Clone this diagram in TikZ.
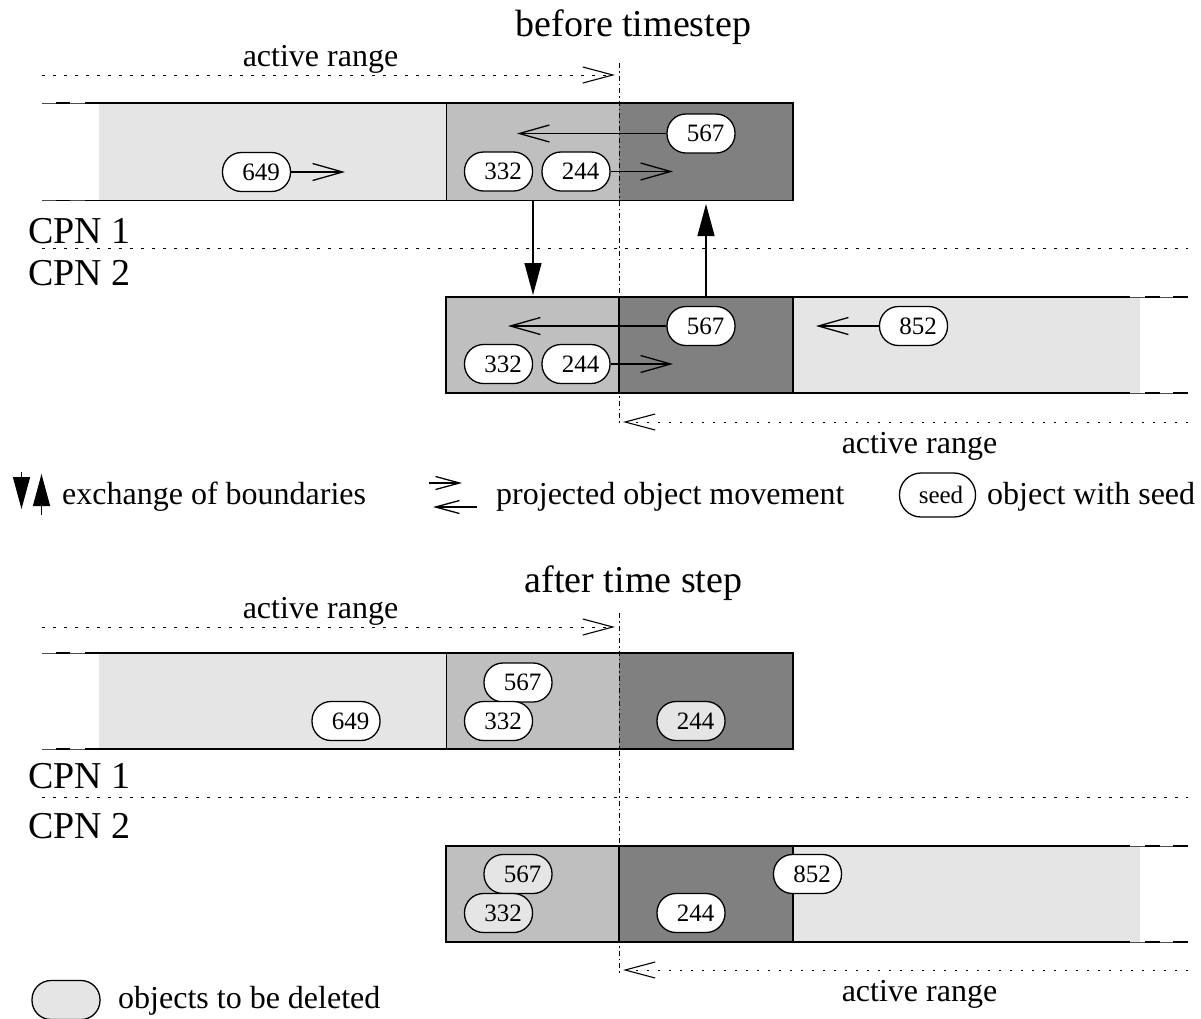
\documentclass[tikz,border=0pt]{standalone}
\usepackage{fontspec}
\setmainfont{Liberation Serif}
\usetikzlibrary{arrows.meta}
\definecolor{lg}{gray}{0.9}
\definecolor{mg}{gray}{0.75}
\definecolor{dg}{gray}{0.5}
\begin{document}
\begin{tikzpicture}[x=1pt,y=-1pt,
  obj/.style={draw, line width=1.3pt, rounded corners=19pt, minimum width=68pt, minimum height=39pt, inner sep=0pt, font=\fontsize{25}{25}\selectfont, fill=white},
  del/.style={obj, fill=lg},
  mv/.style={line width=1.3pt, -{Straight Barb[length=30pt,width=17pt]}},
  exch/.style={line width=1.3pt, -{Triangle[length=32pt,width=17pt]}},
  rng/.style={line width=0.9pt, dash pattern=on 2.5pt off 8.5pt, -{Straight Barb[length=30pt,width=16pt,line width=1.1pt]}},
  sepline/.style={line width=0.9pt, dash pattern=on 2.5pt off 8.5pt},
  vline/.style={line width=1pt, dash pattern=on 5pt off 3pt on 1.5pt off 3pt},
  boxline/.style={line width=1.8pt},
  thinline/.style={line width=0.8pt, black!70},
  lbl/.style={font=\fontsize{32}{36}\selectfont, anchor=base, inner sep=0pt},
  lblw/.style={lbl, anchor=base west},
  big/.style={font=\fontsize{38}{42}\selectfont, anchor=base, inner sep=0pt},
  bigw/.style={big, anchor=base west}]
\useasboundingbox (0,0) rectangle (1201,1018);

% ================= before timestep =================
\node[big] (title1) at (633.5,36) {before timestep};
% box CPN1
\fill[lg] (99,103) rectangle (446,200.5);
\fill[mg] (446,103) rectangle (619,200.5);
\fill[dg] (619,103) rectangle (793,200.5);
\draw[boxline] (85,103) -- (793,103) -- (793,200.5) -- (85,200.5);
\draw[thinline] (42,103) -- (85,103);
\draw[thinline] (42,200.5) -- (85,200.5);
\draw[boxline] (56,103) -- (70,103);
\draw[boxline] (56,200.5) -- (70,200.5);
\draw[line width=1pt] (446,103) -- (446,200.5);
% box CPN2
\fill[mg] (446,297) rectangle (619,393);
\fill[dg] (619,297) rectangle (793,393);
\fill[lg] (793,297) rectangle (1140,393);
\draw[boxline] (1130,297) -- (446,297) -- (446,393) -- (1130,393);
\draw[thinline] (1130,297) -- (1188,297);
\draw[thinline] (1130,393) -- (1188,393);
\draw[boxline] (1145,297) -- (1160,297) (1173,297) -- (1188,297);
\draw[boxline] (1145,393) -- (1160,393) (1173,393) -- (1188,393);
\draw[boxline] (619,297) -- (619,393);
\draw[line width=1.3pt] (793,297) -- (793,393);
% separator
\draw[sepline] (42,248) -- (1188,248);
\node[bigw] (cpn1a) at (28,243) {CPN 1};
\node[bigw] (cpn2a) at (28,285) {CPN 2};
% vertical boundary
\draw[vline] (619,63) -- (619,425);
% active ranges
\coordinate (r1s) at (42,75);
\coordinate (r1e) at (615,75);
\draw[rng] (r1s) -- (r1e);
\node[lbl] (ar1) at (320.5,66) {active range};
\coordinate (r2s) at (1188,422);
\coordinate (r2e) at (623,422);
\draw[rng] (r2s) -- (r2e);
\node[lbl] (ar2) at (919.5,453) {active range};
% objects
\node[obj] (t649) at (256.5,172) {\hspace*{9pt}649};
\node[obj] (t567) at (701,133.5) {\hspace*{9pt}567};
\node[obj] (t332) at (498.5,171.5) {\hspace*{9pt}332};
\node[obj] (t244) at (576,171.5) {\hspace*{9pt}244};
\coordinate (m649) at (345,172);
\coordinate (m567) at (517,133.5);
\coordinate (m244) at (673,171.5);
\draw[mv] (t649.east) -- (m649);
\draw[mv] (t567.west) -- (m567);
\draw[mv] (t244.east) -- (m244);
\node[obj] (b567) at (701,326) {\hspace*{9pt}567};
\node[obj] (b332) at (498.5,364) {\hspace*{9pt}332};
\node[obj] (b244) at (576,364) {\hspace*{9pt}244};
\node[obj] (b852) at (913.5,326) {\hspace*{9pt}852};
\coordinate (n567) at (508,326);
\coordinate (n244) at (673,364);
\coordinate (n852) at (816,326);
\draw[mv] (b567.west) -- (n567);
\draw[mv] (b244.east) -- (n244);
\draw[mv] (b852.west) -- (n852);
% boundary exchange
\coordinate (e1s) at (533,200.5);
\coordinate (e1e) at (533,295);
\coordinate (e2s) at (706,297);
\coordinate (e2e) at (706,204);
\draw[exch] (e1s) -- (e1e);
\draw[exch] (e2s) -- (e2e);

% ================= legend =================
\coordinate (l1s) at (21.5,472);
\coordinate (l1e) at (21.5,509);
\coordinate (l2s) at (41.5,515);
\coordinate (l2e) at (41.5,474);
\draw[exch] (l1s) -- (l1e);
\draw[exch] (l2s) -- (l2e);
\node[lblw] (lg1) at (62,504) {exchange of boundaries};
\coordinate (l3s) at (429,483);
\coordinate (l3e) at (462,483);
\coordinate (l4s) at (477,507);
\coordinate (l4e) at (433,507);
\draw[line width=1.3pt, -{Straight Barb[length=24pt,width=13pt]}] (l3s) -- (l3e);
\draw[line width=1.3pt, -{Straight Barb[length=24pt,width=13pt]}] (l4s) -- (l4e);
\node[lblw] (lg2) at (496,504) {projected object movement};
\node[obj, minimum width=76pt, minimum height=44pt, rounded corners=21.5pt, font=\fontsize{25}{25}\selectfont] (seed) at (937.5,495) {\hspace*{7pt}seed};
\node[lblw] (lg3) at (987,504) {object with seed};

% ================= after time step =================
\node[big] (title2) at (633.5,592) {after time step};
% box CPN1
\fill[lg] (99,653) rectangle (446,749);
\fill[mg] (446,653) rectangle (619,749);
\fill[dg] (619,653) rectangle (793,749);
\draw[boxline] (85,653) -- (793,653) -- (793,749) -- (85,749);
\draw[thinline] (42,653) -- (85,653);
\draw[thinline] (42,749) -- (85,749);
\draw[boxline] (56,653) -- (70,653);
\draw[boxline] (56,749) -- (70,749);
\draw[line width=1pt] (446,653) -- (446,749);
% box CPN2
\fill[mg] (446,846) rectangle (619,942);
\fill[dg] (619,846) rectangle (793,942);
\fill[lg] (793,846) rectangle (1140,942);
\draw[boxline] (1130,846) -- (446,846) -- (446,942) -- (1130,942);
\draw[thinline] (1130,846) -- (1188,846);
\draw[thinline] (1130,942) -- (1188,942);
\draw[boxline] (1145,846) -- (1160,846) (1173,846) -- (1188,846);
\draw[boxline] (1145,942) -- (1160,942) (1173,942) -- (1188,942);
\draw[boxline] (619,846) -- (619,942);
\draw[line width=1.3pt] (793,846) -- (793,942);
% separator
\draw[sepline] (42,797) -- (1188,797);
\node[bigw] (cpn1b) at (28,788) {CPN 1};
\node[bigw] (cpn2b) at (28,838) {CPN 2};
% vertical boundary
\draw[vline] (619,613) -- (619,975);
% active ranges
\coordinate (r3s) at (42,627);
\coordinate (r3e) at (615,627);
\draw[rng] (r3s) -- (r3e);
\node[lbl] (ar3) at (320.5,618) {active range};
\coordinate (r4s) at (1188,970);
\coordinate (r4e) at (623,970);
\draw[rng] (r4s) -- (r4e);
\node[lbl] (ar4) at (919.5,1001) {active range};
% objects
\node[obj] (c649) at (346,721) {\hspace*{9pt}649};
\node[obj] (c567) at (518,682.5) {\hspace*{9pt}567};
\node[obj] (c332) at (498.5,721) {\hspace*{9pt}332};
\node[del] (c244) at (691,721) {\hspace*{9pt}244};
\node[del] (d567) at (518,874) {\hspace*{9pt}567};
\node[del] (d332) at (498.5,913) {\hspace*{9pt}332};
\node[obj] (d244) at (691,913) {\hspace*{9pt}244};
\node[obj] (d852) at (807.5,874) {\hspace*{9pt}852};

% legend
\node[del] (legdel) at (66,1000) {};
\node[lblw] (lg4) at (118,1008) {objects to be deleted};
\end{tikzpicture}
\end{document}
